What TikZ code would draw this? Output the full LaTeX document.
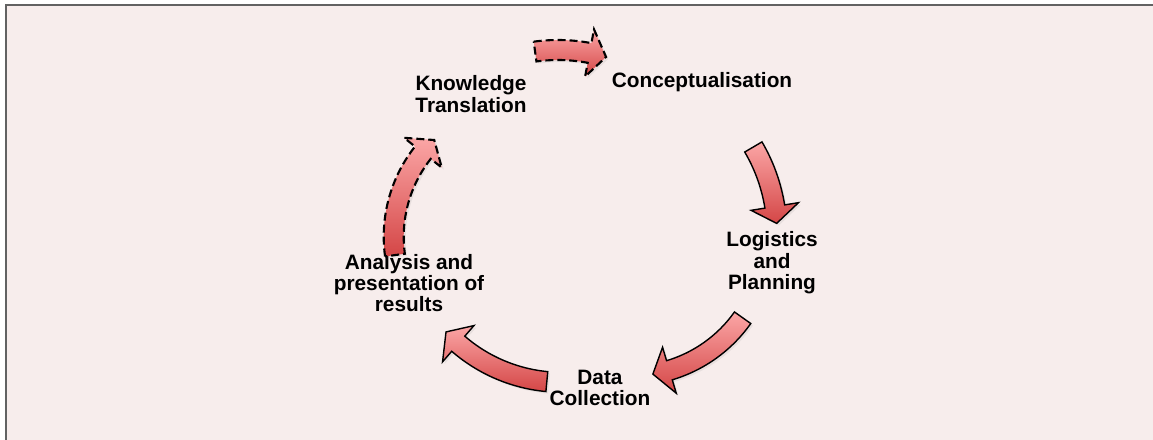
\documentclass[tikz,border=0pt]{standalone}
\usepackage{fontspec}
\setmainfont{Liberation Sans}
\usetikzlibrary{shadows}
\definecolor{bgpink}{RGB}{247,237,236}
\definecolor{framegrey}{RGB}{98,98,98}
\definecolor{arrowtop}{RGB}{251,166,166}
\definecolor{arrowbottom}{RGB}{212,70,70}
\tikzstyle{cycletext} = [align=center, inner sep=0pt, font=\bfseries\fontsize{14.8}{15.2}\selectfont]
\tikzstyle{cyclearrow} = [draw=black, line width=1pt, top color=arrowtop, bottom color=arrowbottom, drop shadow={shadow xshift=1.5pt, shadow yshift=-1.5pt, opacity=0.12}]
\tikzstyle{dasharrow} = [cyclearrow, line width=1.5pt, dash pattern=on 5.7pt off 2.8pt]
% curved block arrow: centre x, centre y, radius, start angle, end angle
\newcommand{\cycarrow}[6][cyclearrow]{%
  \draw[#1] plot[domain=#5:#6, samples=30] ({#2+(#4+10)*cos(\x)}, {#3+(#4+10)*sin(\x)})
    -- ({#2+(#4+24)*cos(#6)}, {#3+(#4+24)*sin(#6)})
    -- ({#2+#4*cos(#6+deg(17/#4))}, {#3+#4*sin(#6+deg(17/#4))})
    -- ({#2+(#4-24)*cos(#6)}, {#3+(#4-24)*sin(#6)})
    -- plot[domain=#6:#5, samples=30] ({#2+(#4-10)*cos(\x)}, {#3+(#4-10)*sin(\x)})
    -- cycle;}

\begin{document}
\begin{tikzpicture}[x=0.025cm, y=-0.025cm]
  \clip (0,0) rectangle (1153,440);
  \fill[white] (0,0) rectangle (1153,440);
  \filldraw[fill=bgpink, draw=framegrey, line width=1.4pt] (6,5) rectangle (1180,470);

  \node (knowledge) [cycletext] at (471,94) {Knowledge\\Translation};
  \node (concept) [cycletext] at (702,82) {Conceptualisation};
  \node (logistics) [cycletext] at (772,263) {Logistics\\and\\Planning};
  \node (data) [cycletext] at (600,388) {Data\\Collection};
  \node (analysis) [cycletext] at (409,283) {Analysis and\\presentation of\\results};

  \cycarrow[dasharrow]{558}{220}{170}{-97.75}{-79.3}
  \cycarrow{605}{234}{172}{-30.4}{-9.2}
  \cycarrow{630}{238}{138}{35.3}{73.4}
  \cycarrow{561.7}{224.3}{158}{95.4}{130.9}
  \cycarrow[dasharrow]{529.3}{236.7}{135.6}{172.2}{218.3}
\end{tikzpicture}
\end{document}
